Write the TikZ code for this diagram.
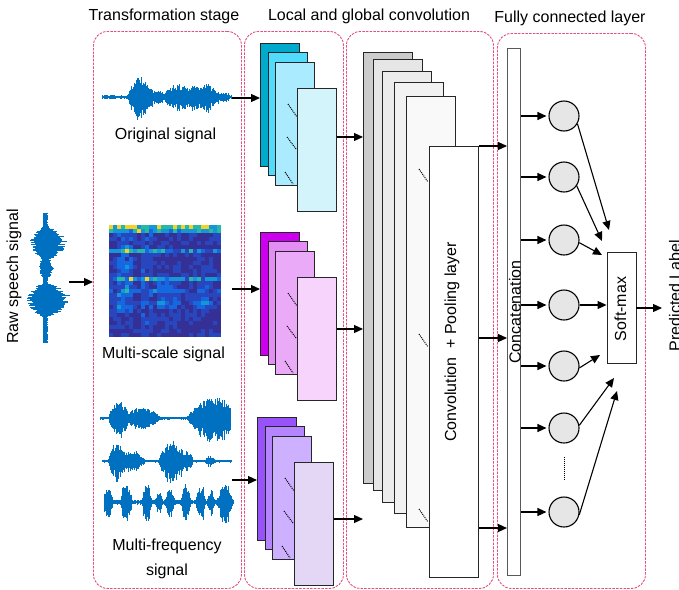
\documentclass[tikz,border=0pt]{standalone}
\usepackage{fontspec}
\setmainfont{Liberation Sans}
\usetikzlibrary{arrows.meta}

\definecolor{wavecol}{RGB}{0,112,192}
\definecolor{panelpink}{RGB}{228,80,125}
\definecolor{cyA}{RGB}{0,170,205}
\definecolor{cyB}{RGB}{80,220,250}
\definecolor{cyC}{RGB}{170,235,255}
\definecolor{cyD}{RGB}{212,244,252}
\definecolor{mgA}{RGB}{204,0,238}
\definecolor{mgB}{RGB}{227,142,245}
\definecolor{mgC}{RGB}{235,170,248}
\definecolor{mgD}{RGB}{246,212,252}
\definecolor{vtA}{RGB}{152,82,250}
\definecolor{vtB}{RGB}{181,132,255}
\definecolor{vtC}{RGB}{205,176,255}
\definecolor{vtD}{RGB}{228,215,245}
\definecolor{gyA}{RGB}{204,204,204}
\definecolor{gyB}{RGB}{230,230,230}
\definecolor{gyC}{RGB}{236,236,236}
\definecolor{gyD}{RGB}{242,242,242}
\definecolor{gyE}{RGB}{249,249,249}
\definecolor{neuronfill}{RGB}{230,230,230}
\definecolor{hm0}{RGB}{52,48,150}
\definecolor{hm1}{RGB}{40,70,190}
\definecolor{hm2}{RGB}{20,105,225}
\definecolor{hm3}{RGB}{20,150,215}
\definecolor{hm4}{RGB}{40,185,165}
\definecolor{hm5}{RGB}{240,210,40}

% horizontal waveform: x0, steps, y, envelope
\newcommand{\hwave}[4]{%
  \foreach \k [evaluate=\k as \xx using #1+0.9*\k] in {0,...,#2}{
    \pgfmathsetmacro\wea{#4(\xx)}
    \pgfmathsetmacro\wup{\wea*(0.55+0.45*rnd)}
    \pgfmathsetmacro\wdn{\wup*(0.95+0.35*rnd)}
    \draw[wavestroke] (\xx,#3-\wup) -- (\xx,#3+\wdn);
  }}
% vertical waveform: y0, steps, x, envelope
\newcommand{\vwave}[4]{%
  \foreach \k [evaluate=\k as \yy using #1+0.9*\k] in {0,...,#2}{
    \pgfmathsetmacro\wea{#4(\yy)}
    \pgfmathsetmacro\wup{\wea*(0.5+0.3*rnd)}
    \pgfmathsetmacro\wdn{\wea*(0.7+0.45*rnd)}
    \draw[wavestroke] (#3-\wup,\yy) -- (#3+\wdn,\yy);
  }}

\begin{document}
\begin{tikzpicture}[x=1pt, y=-1pt,
      every node/.style={font=\fontsize{16}{19}\selectfont},
      panel/.style={draw=panelpink, dash pattern=on 2.5pt off 1.2pt, line width=0.9pt,
        rounded corners=14pt, anchor=north west, inner sep=0pt},
      box/.style={inner sep=0pt},
      fmap/.style={draw=black!85, line width=1.1pt, anchor=north west, inner sep=0pt,
        minimum width=39pt, minimum height=123pt},
      convmap/.style={draw=black!85, line width=1.1pt, anchor=north west, inner sep=0pt,
        minimum width=49pt, minimum height=431pt},
      neuron/.style={circle, draw, line width=1.1pt, fill=neuronfill, minimum size=30pt, inner sep=0pt},
      arr/.style={-{Triangle[length=9pt,width=8pt]}, line width=1.1pt},
      dotline/.style={densely dotted, line width=1pt},
      wavestroke/.style={wavecol, line width=1pt},
      declare function={bump(\pp,\cc,\ww)=max(0,1-((\pp-\cc)/\ww)*((\pp-\cc)/\ww));
        envO(\pp)=1.8+19*bump(\pp,141,14)+5*bump(\pp,158,5)+11*bump(\pp,178,18)+12*bump(\pp,204,16)+3*bump(\pp,224,7);
        envR(\pp)=3+16*bump(\pp,243,17)+5*bump(\pp,268,10)+20*bump(\pp,300,17);
        envA(\pp)=1.5+17*bump(\pp,119,10)+9*bump(\pp,142,18)+19*bump(\pp,215,28);
        envB(\pp)=1.5+17*bump(\pp,117,9)+10*bump(\pp,133,12)+19*bump(\pp,171,12)+9*bump(\pp,186,8)+4*bump(\pp,210,5);
        envC(\pp)=2.5+14*bump(\pp,108,5)+16*bump(\pp,126,6)+17*bump(\pp,147,5)+8*bump(\pp,159,4)+12*bump(\pp,170,5)+16*bump(\pp,186,5)+15*bump(\pp,201,5)+10*bump(\pp,211,4)+17*bump(\pp,225,8);}]
  \useasboundingbox (0,0) rectangle (679,589);
  \pgfmathsetseed{42}

  % stages
  \node[panel, minimum width=148pt, minimum height=557pt] (tpanel) at (93,31) {};
  \node[panel, minimum width=99pt, minimum height=557pt] (lpanel) at (244,31) {};
  \node[panel, minimum width=147pt, minimum height=557pt] (gpanel) at (346,31) {};
  \node[panel, minimum width=148pt, minimum height=555pt] (fpanel) at (497,33) {};
  \node (ttitle) at (164,16) {Transformation stage};
  \node (ltitle) at (369,16) {Local and global convolution};
  \node (ftitle) at (570,18) {Fully connected layer};

  % raw input
  \node[box, minimum width=44pt, minimum height=140pt] (raw) at (47,282) {};
  \vwave{213}{144}{45}{envR}
  \node[rotate=90] (rawlabel) at (14,276.5) {Raw speech signal};
  \draw[arr] (raw.east) -- (raw.east -| tpanel.west);

  % transformed signals
  \node[box, minimum width=130pt, minimum height=48pt] (orig) at (167,98) {};
  \hwave{102}{144}{97}{envO}
  \node (origlabel) at (165.5,135) {Original signal};

  \node[box, minimum size=112pt] (mscale) at (165,281) {};
  \foreach \i in {0,...,27}{
    \foreach \j in {0,...,27}{
      \pgfmathtruncatemacro\n{min(5,6*(0.26*rnd+(\j==0)*(0.42+0.45*rnd)+(\j==1)*(0.32+0.45*rnd)
        +(\j==6||\j==13)*(0.1+0.55*rnd)+(\j==16||\j==19)*(0.3*rnd)
        +(\i>1&&\i<6&&\j>1&&\j<22)*(0.1+0.2*rnd)+0.12*(\i>7&&\i<11&&\j>1)
        +0.15*((\i>11&&\i<17||\i>21&&\i<25)&&\j>13&&\j<21)))}
      \fill[hm\n] (109+4*\i,225+4*\j) rectangle ++(4.2,4.2);
    }}
  \node (mscalelabel) at (163.5,354) {Multi-scale signal};

  \node[box, minimum width=132pt, minimum height=130pt] (mfreq) at (167,460) {};
  \hwave{100}{145}{418}{envA}
  \hwave{102}{144}{461}{envB}
  \hwave{104}{144}{502}{envC}
  \node[align=center, font=\fontsize{16}{25}\selectfont] (mfreqlabel) at (167,559) {Multi-frequency\\signal};

  \coordinate (in2) at (232,289);
  \coordinate (in3) at (232,480);

  % global convolution stack
  \foreach \i/\kx/\ky/\kc in {1/363/52/gyA, 2/373/59/gyB, 3/382/71/gyC, 4/394/82/gyD, 5/406/96/gyE, 6/429/146/white}
    \node[convmap, fill=\kc] (k\i) at (\kx,\ky) {};
  \foreach \dy in {169,334,509}
    \draw[dotline] (419,\dy) -- ++(9,13);
  \node[rotate=90] (convlabel) at (452,342) {Convolution~ + Pooling layer};

  % local feature maps
  \foreach \g/\gx/\gy/\ay/\ca/\cb/\cc/\cd in {a/260/43/137/cyA/cyB/cyC/cyD, b/260/232/329/mgA/mgB/mgC/mgD, c/257/417/519/vtA/vtB/vtC/vtD}{
    \node[fmap, fill=\ca] (\g1) at (\gx,\gy) {};
    \node[fmap, fill=\cb] (\g2) at (\gx+8,\gy+9) {};
    \node[fmap, fill=\cc] (\g3) at (\gx+15,\gy+19) {};
    \node[fmap, fill=\cd] (\g4) at (\gx+37,\gy+45) {};
    \draw[dotline] (\gx+28,\gy+61) -- ++(9,13);
    \draw[dotline] (\gx+27,\gy+94) -- ++(9,12);
    \draw[dotline] (\gx+25,\gy+129) -- ++(8,12);
    \draw[arr] (\g4.east |- 0,\ay) -- (k1.west |- 0,\ay);
  }
  \draw[arr] (orig.east) -- (orig.east -| a1.west);
  \draw[arr] (in2) -- (in2 -| b1.west);
  \draw[arr] (in3) -- (in3 -| c1.west);

  % fully connected part
  \node[draw=black!65, line width=1.1pt, fill=white, anchor=north west, inner sep=0pt,
        minimum width=13pt, minimum height=527pt] (concat) at (507,48) {};
  \node[rotate=90] (concatlabel) at (515,312) {Concatenation};
  \foreach \ay in {146,338,528}
    \draw[arr] (k6.east |- 0,\ay) -- (concat.west |- 0,\ay);

  \foreach \i/\ny in {1/116,2/177,3/240,4/305,5/366,6/428,7/512}{
    \node[neuron] (n\i) at (564,\ny) {};
    \draw[arr, shorten >=2pt] (concat.east |- n\i) -- (n\i);
  }
  \draw[dotline] ([yshift=-13pt]n6.south) -- ([yshift=16pt]n7.north);

  \node[draw=black!85, line width=0.9pt, inner sep=0pt, minimum width=29pt, minimum height=111pt] (softmax) at (621.5,307.5) {};
  \node[rotate=90] (smlabel) at (620.5,309) {Soft-max};
  \coordinate (sm1) at (609,230);
  \coordinate (sm2) at (602,241);
  \coordinate (sm3) at (602,255);
  \coordinate (sm5) at (600,355);
  \coordinate (sm6) at (614,378);
  \coordinate (sm7) at (617,391);
  \draw[arr] (n1.-30) -- (sm1);
  \draw[arr] (n2.-35) -- (sm2);
  \draw[arr] (n3.-10) -- (sm3);
  \draw[arr] (n4) -- (n4 -| softmax.west);
  \draw[arr] (n5.-7) -- (sm5);
  \draw[arr] (n6.10) -- (sm6);
  \draw[arr] (n7.-10) -- (sm7);

  \coordinate (predtip) at (662,308);
  \draw[arr] (softmax.east |- predtip) -- (predtip);
  \node[rotate=90] (predlabel) at (675,295.5) {Predicted Label};
\end{tikzpicture}
\end{document}
